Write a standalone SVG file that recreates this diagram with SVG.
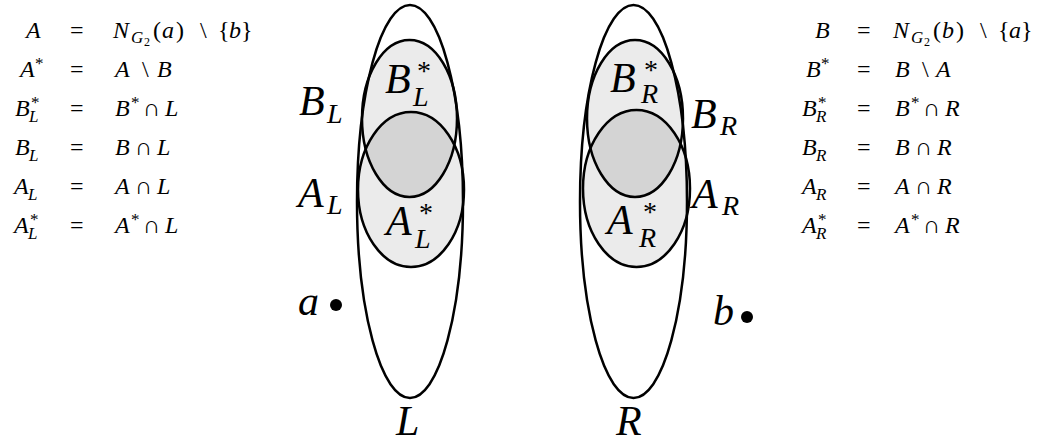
<svg xmlns="http://www.w3.org/2000/svg" width="1047" height="443" viewBox="0 0 1047 443">
<defs>
<style>
text{font-family:"Liberation Serif","DejaVu Serif",serif;fill:#000}
.i{font-style:italic}
.eq{font-size:24px}
.s{font-size:17px}
.ss{font-size:12px}
.big{font-size:42px;font-style:italic}
.bs{font-size:28px;font-style:italic}
.bst{font-size:28px;font-style:normal}
.line{fill:none;stroke:#000;stroke-width:2.5}
.light{fill:#ebebeb;stroke:none}
.dark{fill:#d4d4d4;stroke:none}
</style>
<clipPath id="clipBL"><ellipse cx="409.5" cy="118.5" rx="47.5" ry="78.5"/></clipPath>
<clipPath id="clipBR"><ellipse cx="635" cy="118.5" rx="48" ry="78.5"/></clipPath>
</defs>
<rect width="1047" height="443" fill="#fff"/>

<g id="equations-left" class="eq">
<text y="38"><tspan x="26" class="i">A</tspan><tspan x="70">=</tspan><tspan x="113" class="i">N</tspan><tspan x="131" y="43" class="s i">G</tspan><tspan x="144" y="46" class="ss">2</tspan><tspan x="153" y="38">(</tspan><tspan x="162" class="i">a</tspan><tspan x="176">)</tspan><tspan x="200">\</tspan><tspan x="218">{</tspan><tspan x="229" class="i">b</tspan><tspan x="241">}</tspan></text>
<text y="77"><tspan x="20" class="i">A</tspan><tspan x="35" y="69" class="s">*</tspan><tspan x="70" y="77">=</tspan><tspan x="115" class="i">A</tspan><tspan x="142">\</tspan><tspan x="157" class="i">B</tspan></text>
<text y="116"><tspan x="15" class="i">B</tspan><tspan x="31" y="108" class="s">*</tspan><tspan x="29" y="122" class="s i">L</tspan><tspan x="70" y="116">=</tspan><tspan x="115" class="i">B</tspan><tspan x="131" y="108" class="s">*</tspan><tspan x="143" y="116">∩</tspan><tspan x="165" class="i">L</tspan></text>
<text y="155"><tspan x="15" class="i">B</tspan><tspan x="29" y="161" class="s i">L</tspan><tspan x="70" y="155">=</tspan><tspan x="115" class="i">B</tspan><tspan x="135">∩</tspan><tspan x="157" class="i">L</tspan></text>
<text y="194"><tspan x="14" class="i">A</tspan><tspan x="28" y="200" class="s i">L</tspan><tspan x="70" y="194">=</tspan><tspan x="115" class="i">A</tspan><tspan x="135">∩</tspan><tspan x="157" class="i">L</tspan></text>
<text y="233"><tspan x="14" class="i">A</tspan><tspan x="30" y="225" class="s">*</tspan><tspan x="28" y="239" class="s i">L</tspan><tspan x="70" y="233">=</tspan><tspan x="115" class="i">A</tspan><tspan x="131" y="225" class="s">*</tspan><tspan x="143" y="233">∩</tspan><tspan x="165" class="i">L</tspan></text>
</g>

<g id="equations-right" class="eq">
<text y="38"><tspan x="815" class="i">B</tspan><tspan x="857">=</tspan><tspan x="893" class="i">N</tspan><tspan x="911" y="43" class="s i">G</tspan><tspan x="924" y="46" class="ss">2</tspan><tspan x="933" y="38">(</tspan><tspan x="942" class="i">b</tspan><tspan x="956">)</tspan><tspan x="980">\</tspan><tspan x="998">{</tspan><tspan x="1009" class="i">a</tspan><tspan x="1021">}</tspan></text>
<text y="77"><tspan x="806" class="i">B</tspan><tspan x="821" y="69" class="s">*</tspan><tspan x="857" y="77">=</tspan><tspan x="895" class="i">B</tspan><tspan x="922">\</tspan><tspan x="936" class="i">A</tspan></text>
<text y="116"><tspan x="802" class="i">B</tspan><tspan x="818" y="108" class="s">*</tspan><tspan x="816" y="122" class="s i">R</tspan><tspan x="857" y="116">=</tspan><tspan x="895" class="i">B</tspan><tspan x="911" y="108" class="s">*</tspan><tspan x="923" y="116">∩</tspan><tspan x="945" class="i">R</tspan></text>
<text y="155"><tspan x="802" class="i">B</tspan><tspan x="816" y="161" class="s i">R</tspan><tspan x="857" y="155">=</tspan><tspan x="895" class="i">B</tspan><tspan x="915">∩</tspan><tspan x="937" class="i">R</tspan></text>
<text y="194"><tspan x="802" class="i">A</tspan><tspan x="816" y="200" class="s i">R</tspan><tspan x="857" y="194">=</tspan><tspan x="895" class="i">A</tspan><tspan x="915">∩</tspan><tspan x="937" class="i">R</tspan></text>
<text y="233"><tspan x="802" class="i">A</tspan><tspan x="818" y="225" class="s">*</tspan><tspan x="816" y="239" class="s i">R</tspan><tspan x="857" y="233">=</tspan><tspan x="895" class="i">A</tspan><tspan x="911" y="225" class="s">*</tspan><tspan x="923" y="233">∩</tspan><tspan x="945" class="i">R</tspan></text>
</g>

<g id="set-L">
<ellipse class="light" cx="409.5" cy="118.5" rx="47.5" ry="78.5"/>
<ellipse class="light" cx="411" cy="189.5" rx="53" ry="77.5"/>
<ellipse class="dark" cx="411" cy="189.5" rx="53" ry="77.5" clip-path="url(#clipBL)"/>
<ellipse class="line" cx="410" cy="201.5" rx="53" ry="196.5"/>
<ellipse class="line" cx="409.5" cy="118.5" rx="47.5" ry="78.5"/>
<ellipse class="line" cx="411" cy="189.5" rx="53" ry="77.5"/>
</g>

<g id="set-R">
<ellipse class="light" cx="635" cy="118.5" rx="48" ry="78.5"/>
<ellipse class="light" cx="636.5" cy="188.5" rx="53.5" ry="78.5"/>
<ellipse class="dark" cx="636.5" cy="188.5" rx="53.5" ry="78.5" clip-path="url(#clipBR)"/>
<ellipse class="line" cx="633.5" cy="201.5" rx="53.5" ry="196.5"/>
<ellipse class="line" cx="635" cy="118.5" rx="48" ry="78.5"/>
<ellipse class="line" cx="636.5" cy="188.5" rx="53.5" ry="78.5"/>
</g>

<g id="labels-L">
<text class="big"><tspan x="299" y="115">B</tspan><tspan class="bs" x="327" y="123">L</tspan></text>
<text class="big"><tspan x="298" y="207">A</tspan><tspan class="bs" x="327" y="214">L</tspan></text>
<text class="big"><tspan x="385" y="93">B</tspan><tspan class="bst" x="417" y="80">*</tspan><tspan class="bs" x="413" y="106">L</tspan></text>
<text class="big"><tspan x="386" y="235">A</tspan><tspan class="bst" x="419" y="222">*</tspan><tspan class="bs" x="415" y="248">L</tspan></text>
<text class="big" x="396" y="435">L</text>
</g>

<g id="labels-R">
<text class="big"><tspan x="610" y="92">B</tspan><tspan class="bst" x="644" y="79">*</tspan><tspan class="bs" x="641" y="103">R</tspan></text>
<text class="big"><tspan x="691" y="128">B</tspan><tspan class="bs" x="720" y="135">R</tspan></text>
<text class="big"><tspan x="692" y="208">A</tspan><tspan class="bs" x="722" y="215">R</tspan></text>
<text class="big"><tspan x="607" y="234">A</tspan><tspan class="bst" x="643" y="221">*</tspan><tspan class="bs" x="639" y="247">R</tspan></text>
<text class="big" x="616" y="435">R</text>
</g>

<g id="point-a">
<text class="big" x="298" y="315">a</text>
<circle cx="336" cy="305" r="6" fill="#000"/>
</g>
<g id="point-b">
<text class="big" x="713" y="325">b</text>
<circle cx="747" cy="317" r="6" fill="#000"/>
</g>
</svg>
